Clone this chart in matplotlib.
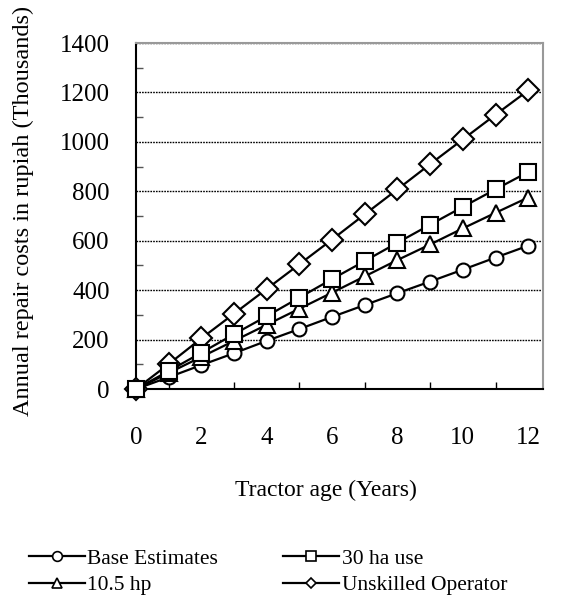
import numpy as np
import matplotlib.pyplot as plt
from matplotlib.lines import Line2D

plt.rcParams['font.family'] = ['Liberation Serif', 'DejaVu Serif']

years = [0, 1, 2, 3, 4, 5, 6, 7, 8, 9, 10, 11, 12]
base = [0, 48, 97, 145, 195, 243, 292, 340, 388, 435, 483, 532, 580]
ha30 = [0, 73, 147, 222, 295, 370, 445, 518, 592, 665, 737, 808, 878]
hp105 = [0, 65, 130, 195, 260, 325, 390, 456, 522, 585, 650, 713, 775]
unskilled = [0, 101, 205, 305, 405, 505, 605, 707, 808, 910, 1010, 1110, 1208]

labels = ['Base Estimates', '30 ha use', '10.5 hp', 'Unskilled Operator']

fig = plt.figure(figsize=(5.62, 6.06), dpi=100)
ax = fig.add_axes([0.242, 0.358, 0.724, 0.571])

kw = dict(color='black', lw=1.6, markerfacecolor='white', markeredgecolor='black',
          markeredgewidth=1.5, clip_on=False)
ax.plot(years, base, marker='o', ms=10, zorder=3, **kw)
ax.plot(years, ha30, marker='s', ms=12, zorder=4, **kw)
ax.plot(years, hp105, marker='^', ms=12, zorder=3, **kw)
ax.plot(years, unskilled, marker='D', ms=11, zorder=3, **kw)

ax.set_xlim(0, 12.45)
ax.set_ylim(0, 1400)
ax.set_xticks(range(0, 13, 2))
ax.set_xticks(range(0, 13), minor=True)
ax.set_yticks(range(0, 1401, 200))
ax.set_yticks(range(100, 1400, 200), minor=True)
ax.tick_params(axis='both', which='major', labelsize=18, length=0)
ax.tick_params(axis='y', which='major', pad=19)
ax.tick_params(axis='x', which='major', pad=27)
ax.tick_params(axis='x', which='minor', direction='in', length=5, width=1)
ax.tick_params(axis='y', which='minor', direction='in', length=5, width=1, color='#555555')
ax.grid(axis='y', which='major', linestyle=(0, (1.2, 0.8)), color='black', lw=1)
ax.set_axisbelow(True)

for s in ['top', 'right']:
    ax.spines[s].set_color('#999999')
    ax.spines[s].set_linewidth(1.5)
for s in ['left', 'bottom']:
    ax.spines[s].set_color('black')
    ax.spines[s].set_linewidth(1.5)

ax.set_xlabel('Tractor age (Years)', fontsize=17)
ax.xaxis.set_label_coords(0.468, -0.262)
ax.set_ylabel('Annual repair costs in rupiah (Thousands)', fontsize=17.5)
ax.yaxis.set_label_coords(-0.25, 0.515)

markers = ['o', 's', '^', 'D']
sizes = [7, 7, 7, 5.5]
handles = [Line2D([0], [0], color='black', lw=1.6, marker=m, ms=sz, markerfacecolor='white',
                  markeredgecolor='black', markeredgewidth=1.2) for m, sz in zip(markers, sizes)]
order = [0, 2, 1, 3]
fig.legend([handles[i] for i in order], [labels[i] for i in order], ncol=2,
           loc='lower left', bbox_to_anchor=(0.032, 0.0), frameon=False, fontsize=15.5,
           handlelength=2.6, handletextpad=0.1, columnspacing=3.05, labelspacing=0.3,
           borderaxespad=0.1)

fig.savefig('out.png', dpi=100)
